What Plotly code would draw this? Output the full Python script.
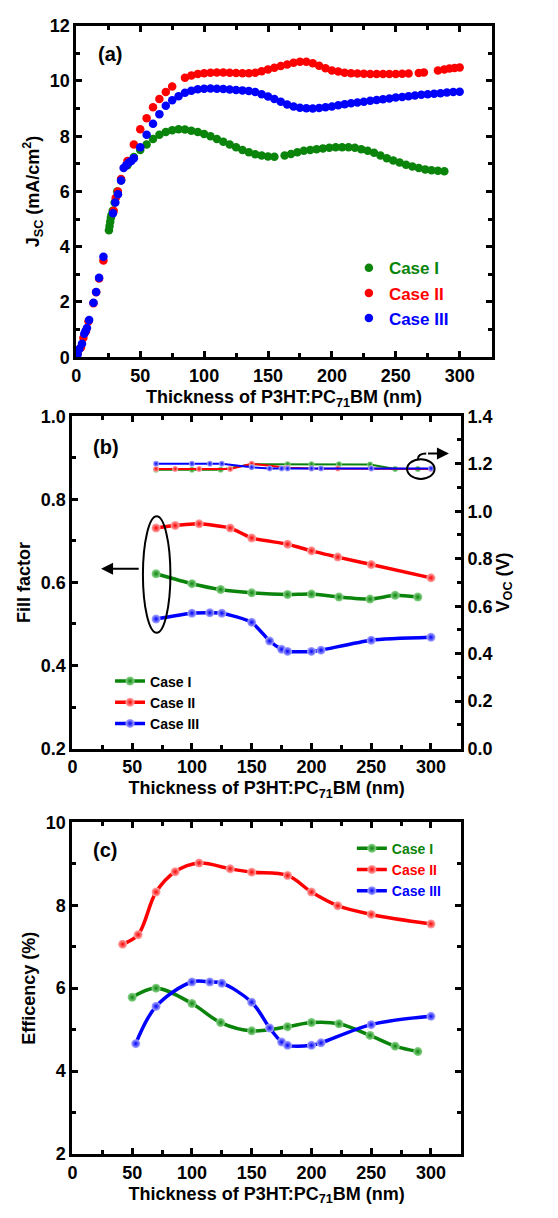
import plotly.graph_objects as go

W, H = 558, 1218
GREEN, RED, BLUE = "#0a840a", "#ff0000", "#0000ff"
FONT = "Liberation Sans"
XT = "Thickness of P3HT:PC<sub>71</sub>BM (nm)"
CASES = ["Case I", "Case II", "Case III"]

# ---------------- panel (a): Jsc vs thickness ----------------
jsc_x_I = [25.5, 26, 26.5, 27, 27.5, 28.5, 30, 32, 35, 40, 45, 50, 55, 60, 65, 70, 75, 80, 85, 90,
           95, 100, 105, 110, 115, 120, 125, 130, 135, 140, 145, 150, 155, 163, 168, 173, 178, 183,
           188, 193, 198, 203, 208, 213, 218, 223, 228, 233, 238, 243, 248, 253, 258, 263, 268, 273,
           278, 283, 288]
jsc_I = [4.6, 4.75, 4.9, 5.05, 5.15, 5.3, 5.6, 6.0, 6.4, 6.95, 7.25, 7.5, 7.7, 7.9, 8.05, 8.15, 8.22,
         8.25, 8.24, 8.2, 8.15, 8.08, 8.0, 7.9, 7.8, 7.7, 7.6, 7.5, 7.42, 7.35, 7.3, 7.27, 7.26, 7.3,
         7.36, 7.42, 7.47, 7.5, 7.53, 7.56, 7.58, 7.6, 7.6, 7.6, 7.58, 7.53, 7.47, 7.4, 7.3, 7.2, 7.12,
         7.05, 6.97, 6.9, 6.85, 6.8, 6.77, 6.75, 6.73]

jsc_x_II = [1, 3.6, 5.5, 7.5, 9.5, 13.4, 15.5, 17.8, 21.2, 29.2, 30.8, 32.5, 35, 40, 45, 50, 55, 60,
            65, 70, 75, 85, 90, 95, 100, 105, 110, 115, 120, 125, 130, 135, 140, 145, 150, 155, 160,
            165, 170, 175, 180, 185, 190, 195, 200, 205, 210, 215, 220, 225, 230, 235, 240, 245, 250,
            255, 260, 268, 272, 283, 288, 292, 296, 300]
jsc_II = [0.15, 0.35, 0.7, 0.94, 1.3, 1.95, 2.35, 2.85, 3.5, 5.3, 5.76, 6.0, 6.45, 7.1, 7.7, 8.25,
          8.65, 9.05, 9.35, 9.6, 9.8, 10.12, 10.2, 10.25, 10.28, 10.3, 10.31, 10.31, 10.3, 10.29,
          10.28, 10.28, 10.3, 10.35, 10.42, 10.48, 10.54, 10.6, 10.66, 10.7, 10.7, 10.64, 10.55,
          10.46, 10.38, 10.34, 10.3, 10.28, 10.27, 10.26, 10.25, 10.25, 10.25, 10.25, 10.25, 10.26,
          10.27, 10.29, 10.31, 10.38, 10.42, 10.45, 10.47, 10.49]

jsc_x_III = [1, 2.3, 4.4, 6.2, 7.2, 8.3, 10, 13.4, 15.5, 17.8, 21.2, 28.7, 30.5, 32.6, 35, 37, 39, 41,
             43, 45, 50, 55, 60, 65, 70, 75, 80, 85, 90, 95, 100, 105, 110, 115, 120, 125, 130, 135,
             140, 145, 150, 155, 160, 165, 170, 175, 180, 185, 190, 195, 200, 205, 210, 215, 220, 225,
             230, 235, 240, 245, 250, 255, 260, 265, 270, 275, 280, 285, 290, 295, 300]
jsc_III = [0.1, 0.3, 0.49, 0.85, 0.95, 1.06, 1.35, 1.97, 2.36, 2.88, 3.64, 5.21, 5.6, 5.9, 6.4, 6.85,
           6.95, 7.05, 7.1, 7.2, 7.6, 8.05, 8.45, 8.8, 9.1, 9.3, 9.45, 9.57, 9.65, 9.7, 9.72, 9.73,
           9.72, 9.71, 9.69, 9.67, 9.66, 9.64, 9.6, 9.52, 9.44, 9.35, 9.25, 9.15, 9.08, 9.03, 9.01,
           9.0, 9.02, 9.05, 9.08, 9.12, 9.16, 9.19, 9.22, 9.25, 9.28, 9.31, 9.34, 9.37, 9.4, 9.42,
           9.45, 9.47, 9.5, 9.52, 9.54, 9.56, 9.58, 9.6, 9.61]

# ---------------- panel (b): FF and Voc ----------------
b_x_I = [70, 100, 124, 150, 180, 200, 223, 249, 270, 289]
ff_I = [0.621, 0.597, 0.583, 0.575, 0.571, 0.572, 0.565, 0.560, 0.569, 0.565]
voc_I = [1.175, 1.175, 1.175, 1.198, 1.198, 1.198, 1.198, 1.197, 1.178, 1.178]
b_x_II = [70, 86, 106, 132, 150, 180, 200, 222, 250, 300]
ff_II = [0.731, 0.737, 0.741, 0.731, 0.707, 0.692, 0.676, 0.661, 0.643, 0.611]
voc_II = [1.178, 1.178, 1.178, 1.178, 1.2, 1.183, 1.18, 1.18, 1.18, 1.178]
b_x_III = [70, 100, 115, 125, 150, 165, 175, 180, 200, 208, 250, 300]
ff_III = [0.512, 0.526, 0.527, 0.526, 0.504, 0.459, 0.439, 0.434, 0.434, 0.437, 0.461, 0.468]
voc_III = [1.2, 1.2, 1.2, 1.2, 1.185, 1.18, 1.18, 1.18, 1.18, 1.18, 1.18, 1.18]

# ---------------- panel (c): efficiency ----------------
c_x_I = [50, 70, 100, 124, 150, 180, 200, 223, 249, 270, 289]
eff_I = [5.78, 6.0, 5.63, 5.17, 4.97, 5.07, 5.17, 5.14, 4.86, 4.60, 4.47]
c_x_II = [42, 55, 70, 86, 106, 132, 150, 180, 200, 222, 250, 300]
eff_II = [7.06, 7.29, 8.32, 8.81, 9.02, 8.88, 8.80, 8.72, 8.32, 7.99, 7.78, 7.55]
c_x_III = [53, 70, 100, 115, 125, 150, 165, 175, 180, 200, 208, 250, 300]
eff_III = [4.66, 5.56, 6.15, 6.15, 6.12, 5.66, 5.04, 4.70, 4.62, 4.62, 4.68, 5.12, 5.32]

COLORS = [GREEN, RED, BLUE]
LIGHT = ["#8fd68f", "#ffb0b0", "#b0b0ff"]

def px_x(p):
    return p / W

def px_y(p):
    return 1 - p / H

fig = go.Figure()

# panel (a)
for name, xs, ys, col in zip(CASES, [jsc_x_I, jsc_x_II, jsc_x_III], [jsc_I, jsc_II, jsc_III], COLORS):
    fig.add_trace(go.Scatter(
        x=xs, y=ys, mode="markers", name=f'<span style="color:{col}">{name}</span>',
        marker=dict(color=col, size=8.5, line=dict(width=0)), cliponaxis=False,
        xaxis="x", yaxis="y", legend="legend"))

# panel (b)
for name, xs, ff, col, lt in zip(CASES, [b_x_I, b_x_II, b_x_III], [ff_I, ff_II, ff_III], COLORS, LIGHT):
    fig.add_trace(go.Scatter(
        x=xs, y=ff, mode="lines+markers", name=name,
        line=dict(color=col, width=3.5, shape="spline", smoothing=0.6),
        marker=dict(color=lt, size=9, gradient=dict(type="radial", color=col), line=dict(width=0)),
        xaxis="x2", yaxis="y2", legend="legend2"))
for name, xs, voc, col, lt in zip(CASES, [b_x_I, b_x_II, b_x_III], [voc_I, voc_II, voc_III], COLORS, LIGHT):
    fig.add_trace(go.Scatter(
        x=xs, y=voc, mode="lines+markers", name=name, showlegend=False,
        line=dict(color=col, width=2),
        marker=dict(color=lt, size=6, gradient=dict(type="radial", color=col), line=dict(width=0)),
        xaxis="x2", yaxis="y3"))

# panel (c)
for name, xs, ys, col, lt in zip(CASES, [c_x_I, c_x_II, c_x_III], [eff_I, eff_II, eff_III], COLORS, LIGHT):
    fig.add_trace(go.Scatter(
        x=xs, y=ys, mode="lines+markers", name=f'<span style="color:{col}">{name}</span>',
        line=dict(color=col, width=3.5, shape="spline", smoothing=1.0),
        marker=dict(color=lt, size=9, gradient=dict(type="radial", color=col), line=dict(width=0)),
        xaxis="x3", yaxis="y4", legend="legend3"))

tick_font = dict(family=FONT, size=18, color="black", weight="bold")
title_font = dict(family=FONT, size=18, color="black", weight="bold")

def xax(domain, anchor, standoff):
    return dict(domain=domain, anchor=anchor, range=[0, 325], dtick=50, tick0=0,
                ticks="inside", ticklen=6, tickwidth=2.5, tickcolor="black",
                minor=dict(dtick=25, ticks="inside", ticklen=4, tickwidth=2.5, tickcolor="black"),
                showline=True, linewidth=3, linecolor="black", mirror="ticks",
                showgrid=False, zeroline=False, tickfont=tick_font,
                title=dict(text=XT, font=title_font, standoff=standoff))

def yax(domain, anchor, rng, dtick, minor, title, fmt=None, mirror="ticks", standoff=6):
    d = dict(domain=domain, anchor=anchor, range=rng, dtick=dtick, tick0=rng[0],
             ticks="inside", ticklen=6, tickwidth=2.5, tickcolor="black",
             minor=dict(dtick=minor, ticks="inside", ticklen=4, tickwidth=2.5, tickcolor="black"),
             showline=True, linewidth=3, linecolor="black", mirror=mirror,
             showgrid=False, zeroline=False, tickfont=tick_font,
             title=dict(text=title, font=title_font, standoff=standoff))
    if fmt:
        d["tickformat"] = fmt
    return d

dom_a_x = [px_x(72), px_x(491)]
dom_a_y = [px_y(353), px_y(16)]
dom_b_x = [px_x(68), px_x(460)]
dom_b_y = [px_y(751), px_y(413)]
dom_c_x = [px_x(68), px_x(460)]
dom_c_y = [px_y(1163), px_y(826)]

fig.update_layout(
    width=W, height=H, margin=dict(l=0, r=0, t=0, b=0),
    paper_bgcolor="white", plot_bgcolor="white",
    xaxis=xax(dom_a_x, "y", 6),
    yaxis=yax(dom_a_y, "x", [0, 12], 2, 1, "J<sub>SC</sub> (mA/cm<sup>2</sup>)"),
    xaxis2=xax(dom_b_x, "y2", 6),
    yaxis2=yax(dom_b_y, "x2", [0.2, 1.0], 0.2, 0.1, "Fill factor", fmt=".1f", mirror=False),
    yaxis3=dict(overlaying="y2", anchor="x2", side="right", range=[0, 1.4], dtick=0.2, tick0=0,
                tickformat=".1f", ticks="inside", ticklen=6, tickwidth=2.5, tickcolor="black",
                minor=dict(dtick=0.1, ticks="inside", ticklen=4, tickwidth=2.5, tickcolor="black"),
                showline=True, linewidth=3, linecolor="black", showgrid=False, zeroline=False,
                tickfont=tick_font,
                title=dict(text="V<sub>OC</sub> (V)", font=title_font, standoff=4)),
    xaxis3=xax(dom_c_x, "y4", 6),
    yaxis4=yax(dom_c_y, "x3", [2, 10], 2, 1, "Efficency (%)"),
    legend=dict(x=px_x(347), y=px_y(288), xanchor="left", yanchor="middle",
                bgcolor="rgba(0,0,0,0)", font=dict(family=FONT, size=17, weight="bold")),
    legend2=dict(x=px_x(106), y=px_y(704), xanchor="left", yanchor="middle",
                 bgcolor="rgba(0,0,0,0)", font=dict(family=FONT, size=14, weight="bold", color="black")),
    legend3=dict(x=px_x(350), y=px_y(874), xanchor="left", yanchor="middle",
                 bgcolor="rgba(0,0,0,0)", font=dict(family=FONT, size=14, weight="bold")),
    showlegend=True,
)

# panel labels
for lab, x0, yc in [("(a)", 92, 45), ("(b)", 87, 444), ("(c)", 87, 854)]:
    fig.add_annotation(text=lab, x=px_x(x0), y=px_y(yc), xref="paper", yref="paper",
                       xanchor="left", yanchor="middle", showarrow=False,
                       font=dict(family=FONT, size=20, weight="bold", color="black"))

# ellipse + arrow pointing to FF axis (left)
fig.add_shape(type="circle", xref="x2", yref="y2", x0=59, x1=82, y0=0.479, y1=0.759,
              line=dict(color="black", width=2))
fig.add_annotation(xref="x2", yref="y2", axref="x2", ayref="y2", x=24, y=0.633, ax=58, ay=0.633,
                   showarrow=True, arrowhead=2, arrowsize=1.2, arrowwidth=2, arrowcolor="black", text=" ")
# ellipse + arrow pointing to Voc axis (right)
fig.add_shape(type="circle", xref="x2", yref="y3", x0=280, x1=303, y0=1.136, y1=1.219,
              line=dict(color="black", width=2))
fig.add_shape(type="path", xref="x2", yref="y3",
              path="M 289,1.219 Q 289,1.243 296,1.243", line=dict(color="black", width=2))
fig.add_annotation(xref="x2", yref="y3", axref="x2", ayref="y3", x=315, y=1.243, ax=295, ay=1.243,
                   showarrow=True, arrowhead=2, arrowsize=1.2, arrowwidth=2, arrowcolor="black", text=" ")

fig.write_html("out.html", config={"displayModeBar": False},
               post_script="document.body.style.margin='0px';")
